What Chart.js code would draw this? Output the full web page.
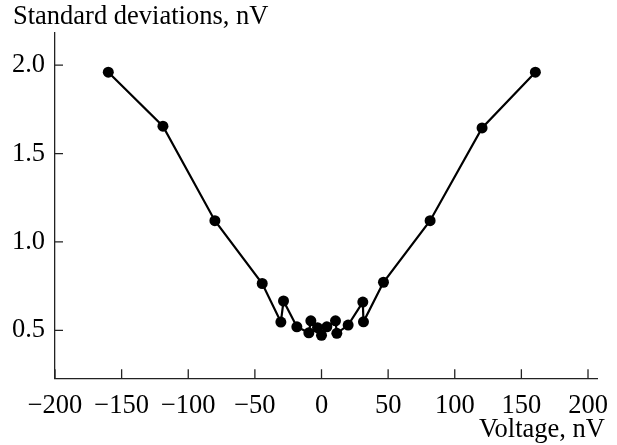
<!DOCTYPE html>
<html>
<head>
<meta charset="utf-8">
<script src="https://cdn.jsdelivr.net/npm/chart.js@4/dist/chart.umd.min.js"></script>
<style>
  html, body { margin: 0; padding: 0; background: #fff; }
  #box { width: 617px; height: 445px; }
</style>
</head>
<body>
<div id="box"><canvas id="sd-chart" width="617" height="445"></canvas></div>
<script>
/* standard deviation vs voltage */

const voltage = [-160, -119, -80, -44.5, -30.5, -28.5, -18.5, -9.5, -8, -3, 0, 4, 10.5, 11.5, 20, 31, 31.5, 46.5, 81.5, 120.5, 160.5];
const stdDev = [1.96, 1.655, 1.12, 0.765, 0.547, 0.666, 0.52, 0.486, 0.554, 0.515, 0.472, 0.52, 0.554, 0.483, 0.53, 0.66, 0.548, 0.772, 1.12, 1.645, 1.96];

const xTicks = [-200, -150, -100, -50, 0, 50, 100, 150, 200];
const yTicks = [0.5, 1.0, 1.5, 2.0];

const FONT = "'Liberation Serif', 'Times New Roman', serif";

// tick marks point into the plot, so draw them here (plus the x title, right of the axis end)
const innerTicks = {
    id: "innerTicks",
    afterDraw(chart) {
        const ctx = chart.ctx;
        const area = chart.chartArea;
        const x = chart.scales.x;
        const y = chart.scales.y;
        ctx.save();
        ctx.strokeStyle = "#222";
        ctx.lineWidth = 1.3;
        ctx.beginPath();
        x.ticks.forEach(t => {
            const px = x.getPixelForValue(t.value);
            ctx.moveTo(px, area.bottom);
            ctx.lineTo(px, area.bottom - 9);
        });
        y.ticks.forEach(t => {
            const py = y.getPixelForValue(t.value);
            ctx.moveTo(area.left, py);
            ctx.lineTo(area.left + 8, py);
        });
        ctx.stroke();

        ctx.fillStyle = "#000";
        ctx.font = "26.5px " + FONT;
        ctx.textAlign = "right";
        ctx.textBaseline = "alphabetic";
        ctx.fillText("Voltage, nV", area.right + 8, 437);
        ctx.restore();
    }
};

new Chart(document.getElementById("sd-chart"), {
    type: "scatter",
    data: {
        datasets: [
            {
                data: voltage.map((v, i) => ({ x: v, y: stdDev[i] })),
                showLine: true,
                borderColor: "#000",
                borderWidth: 2.2,
                backgroundColor: "#000",
                pointRadius: 5.5,
                pointBorderWidth: 0
            }
        ]
    },
    options: {
        responsive: false,
        animation: false,
        devicePixelRatio: 1,
        layout: {
            padding: { left: 13, right: 20, top: 0, bottom: 0 }
        },
        plugins: {
            legend: { display: false },
            tooltip: { enabled: false },
            title: {
                display: true,
                text: "Standard deviations, nV",
                align: "start",
                color: "#000",
                font: { family: FONT, size: 26.5, weight: "normal" },
                padding: { top: 1, bottom: 0 }
            }
        },
        scales: {
            x: {
                type: "linear",
                min: -200,
                max: 206.75,
                afterBuildTicks: s => { s.ticks = xTicks.map(v => ({ value: v })); },
                afterFit: s => {
                    s.height = 66.7;
                    s.paddingLeft = 0;
                    s.paddingRight = 0;
                },
                ticks: {
                    color: "#000",
                    padding: 12,
                    maxRotation: 0,
                    autoSkip: false,
                    font: { family: FONT, size: 26.5 },
                    callback: v => (v < 0 ? "\u2212" + Math.abs(v) : String(v))
                },
                grid: { drawOnChartArea: false, drawTicks: false },
                border: { display: true, color: "#222", width: 1.3 }
            },
            y: {
                type: "linear",
                min: 0.2287,
                max: 2.183,
                afterBuildTicks: s => { s.ticks = yTicks.map(v => ({ value: v })); },
                afterFit: s => { s.width = 42; },
                ticks: {
                    color: "#000",
                    padding: 10,
                    font: { family: FONT, size: 26.5 },
                    callback: v => v.toFixed(1)
                },
                grid: { drawOnChartArea: false, drawTicks: false },
                border: { display: true, color: "#222", width: 1.3 }
            }
        }
    },
    plugins: [innerTicks]
});
</script>
</body>
</html>
